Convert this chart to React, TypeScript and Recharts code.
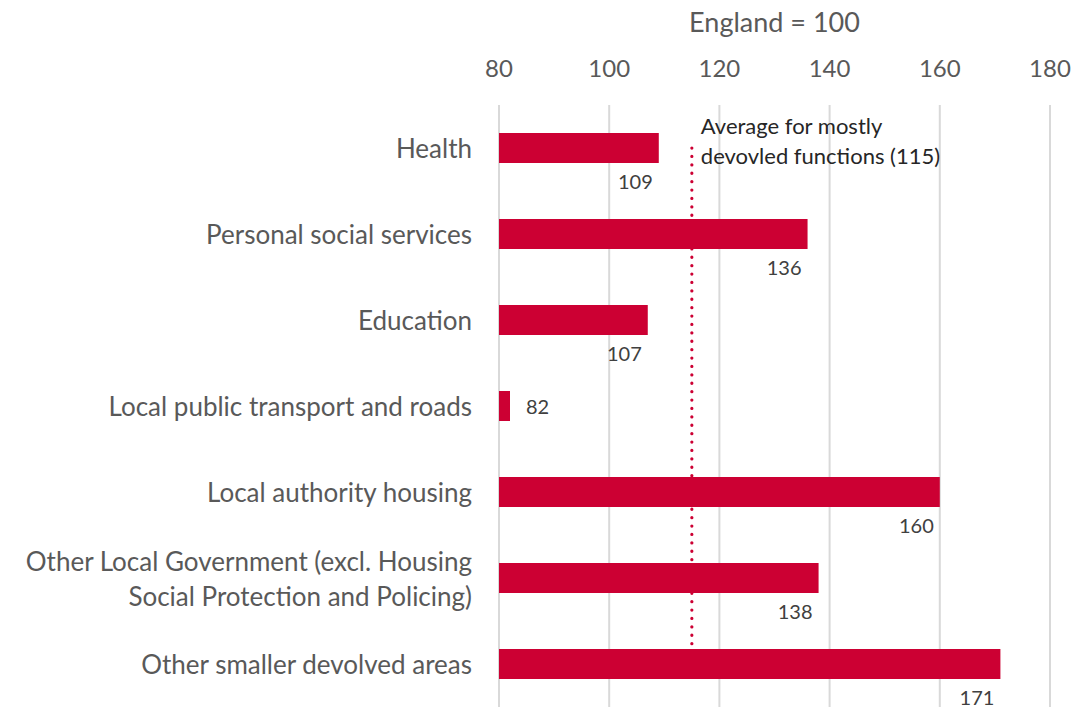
import React from 'react';
import {
  BarChart,
  Bar,
  XAxis,
  YAxis,
  CartesianGrid,
  ReferenceLine,
  LabelList,
} from 'recharts';

const categories = [
  'Health',
  'Personal social services',
  'Education',
  'Local public transport and roads',
  'Local authority housing',
  'Other Local Government (excl. Housing\nSocial Protection and Policing)',
  'Other smaller devolved areas',
];
const values = [109, 136, 107, 82, 160, 138, 171];
const xTicks = [80, 100, 120, 140, 160, 180];
const averageValue = 115;
const averageLabel = ['Average for mostly', 'devovled functions (115)'];

const data = categories.map((name, i) => ({ name, value: values[i] }));

const FONT = 'Lato, "Noto Sans", sans-serif';
const RED = '#cc0033';

const CategoryTick = (props: any) => {
  const { x, y, payload } = props;
  const lines = String(payload.value).split('\n');
  const lh = 35;
  const start = y - ((lines.length - 1) * lh) / 2;
  return (
    <text x={x} y={start} textAnchor="end" fill="#595959" fontSize={26} fontFamily={FONT} dominantBaseline="central">
      {lines.map((l, i) => (
        <tspan key={i} x={x} y={start + i * lh}>
          {l}
        </tspan>
      ))}
    </text>
  );
};

// small bars get their label on the right, the rest below the bar end
const ValueLabel = (props: any) => {
  const { x, y, width, height, value } = props;
  if (width < 40) {
    return (
      <text x={x + width + 16} y={y + height / 2} fill="#404040" fontSize={20} fontFamily={FONT} dominantBaseline="central">
        {value}
      </text>
    );
  }
  return (
    <text x={x + width - 6} y={y + height + 18} textAnchor="end" fill="#404040" fontSize={20} fontFamily={FONT} dominantBaseline="central">
      {value}
    </text>
  );
};

const AverageLabel = (props: any) => {
  const vb = props.viewBox || {};
  return (
    <text x={vb.x + 9} y={vb.y - 23} fill="#262626" fontSize={22} fontFamily={FONT} dominantBaseline="central">
      {averageLabel.map((l, i) => (
        <tspan key={i} x={vb.x + 9} y={vb.y - 23 + i * 30}>
          {l}
        </tspan>
      ))}
    </text>
  );
};

export default function App() {
  return (
    <div style={{ position: 'absolute', left: 0, top: 0, background: '#fff' }}>
      <BarChart
        width={1073}
        height={708}
        data={data}
        layout="vertical"
        margin={{ top: 0, right: 23, bottom: 1, left: 0 }}
        barCategoryGap={28}
      >
        <CartesianGrid horizontal={false} stroke="#d9d9d9" strokeWidth={2} />
        <XAxis
          type="number"
          orientation="top"
          domain={[80, 180]}
          ticks={xTicks}
          height={105}
          axisLine={false}
          tickLine={false}
          tickMargin={22}
          tick={{ fill: '#595959', fontSize: 24, fontFamily: FONT }}
          label={{
            value: 'England = 100',
            position: 'insideTop',
            offset: 13,
            fill: '#595959',
            fontSize: 27,
            fontFamily: FONT,
          }}
        />
        <YAxis
          type="category"
          dataKey="name"
          width={499}
          axisLine={false}
          tickLine={false}
          tickMargin={21}
          interval={0}
          tick={<CategoryTick />}
        />
        <ReferenceLine
          segment={[
            { x: averageValue, y: categories[0] },
            { x: averageValue, y: categories[categories.length - 1] },
          ]}
          stroke={RED}
          strokeWidth={3.2}
          strokeDasharray="0.1 8.3"
          strokeLinecap="round"
          zIndex={250}
          label={<AverageLabel />}
        />
        <Bar dataKey="value" fill={RED} barSize={30} isAnimationActive={false}>
          <LabelList dataKey="value" content={<ValueLabel />} />
        </Bar>
      </BarChart>
    </div>
  );
}
